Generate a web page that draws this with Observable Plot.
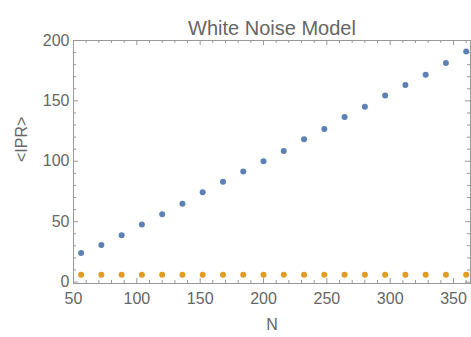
<!DOCTYPE html>
<html>
<head>
<meta charset="utf-8">
<script src="https://cdn.jsdelivr.net/npm/d3@7"></script>
<script src="https://cdn.jsdelivr.net/npm/@observablehq/plot@0.6"></script>
<style>
  html, body { margin: 0; padding: 0; background: #fff; }
</style>
</head>
<body>
<div id="chart"></div>
<script>
const title = "White Noise Model";
const xLabel = "N";
const yLabel = "<IPR>";
const N = [56, 72, 88, 104, 120, 136, 152, 168, 184, 200, 216, 232, 248, 264, 280, 296, 312, 328, 344, 360];
const iprBlue = [24, 30.6, 38.8, 47.7, 56.2, 64.8, 74.4, 83, 91.5, 100, 108.6, 118.2, 126.8, 136.7, 145.2, 154.5, 163.1, 171.7, 181.3, 190.9];
const iprOrange = [6, 6, 6, 6, 6, 6, 6, 6, 6, 6, 6, 6, 6, 6, 6, 6, 6, 6, 6, 6];
const xMajor = [50, 100, 150, 200, 250, 300, 350];
const xMinor = [60, 70, 80, 90, 110, 120, 130, 140, 160, 170, 180, 190, 210, 220, 230, 240, 260, 270, 280, 290, 310, 320, 330, 340, 360];
const yMajor = [0, 50, 100, 150, 200];
const yMinor = [10, 20, 30, 40, 60, 70, 80, 90, 110, 120, 130, 140, 160, 170, 180, 190];

const W = 471, H = 337;
const mL = 73, mR = 1, mT = 40, mB = 54;
const pw = W - mL - mR, ph = H - mT - mB;
const frameColor = "#999";
const textColor = "#666";

const blue = N.map((n, i) => ({N: n, v: iprBlue[i]}));
const orange = N.map((n, i) => ({N: n, v: iprOrange[i]}));

const majLen = 5, minLen = 3;

const chart = Plot.plot({
  width: W,
  height: H,
  marginLeft: mL,
  marginRight: mR,
  marginTop: mT,
  marginBottom: mB,
  style: {fontFamily: "'Liberation Sans', Arial, sans-serif", background: "#fff"},
  x: {domain: [50, 363.4]},
  y: {domain: [-1.2, 200]},
  marks: [
    Plot.frame({stroke: frameColor}),
    // bottom ticks
    Plot.tickX(xMajor, {x: d => d, stroke: frameColor, insetTop: ph - majLen}),
    Plot.tickX(xMinor, {x: d => d, stroke: frameColor, insetTop: ph - minLen}),
    // top ticks
    Plot.tickX(xMajor, {x: d => d, stroke: frameColor, insetBottom: ph - majLen}),
    Plot.tickX(xMinor, {x: d => d, stroke: frameColor, insetBottom: ph - minLen}),
    // left ticks
    Plot.tickY(yMajor, {y: d => d, stroke: frameColor, insetRight: pw - majLen}),
    Plot.tickY(yMinor, {y: d => d, stroke: frameColor, insetRight: pw - minLen}),
    // right ticks
    Plot.tickY(yMajor, {y: d => d, stroke: frameColor, insetLeft: pw - majLen}),
    Plot.tickY(yMinor, {y: d => d, stroke: frameColor, insetLeft: pw - minLen}),
    Plot.axisX({ticks: xMajor, tickSize: 0, tickPadding: 9, fontSize: 16, color: textColor, label: null}),
    Plot.axisY({ticks: yMajor, tickSize: 0, tickPadding: 4, fontSize: 16, color: textColor, label: null}),
    Plot.dot(blue, {x: "N", y: "v", r: 3, fill: "#5E81B5", stroke: "none"}),
    Plot.dot(orange, {x: "N", y: "v", r: 3, fill: "#E19C24", stroke: "none"}),
    Plot.text([title], {text: d => d, frameAnchor: "top", dy: -20, fontSize: 20, fill: textColor}),
    Plot.text([xLabel], {text: d => d, frameAnchor: "bottom", dy: 46, fontSize: 16, fill: textColor}),
    Plot.text([yLabel], {text: d => d, frameAnchor: "left", dx: -52, rotate: -90, fontSize: 16, fill: textColor})
  ]
});
document.getElementById("chart").appendChild(chart);
</script>
</body>
</html>
